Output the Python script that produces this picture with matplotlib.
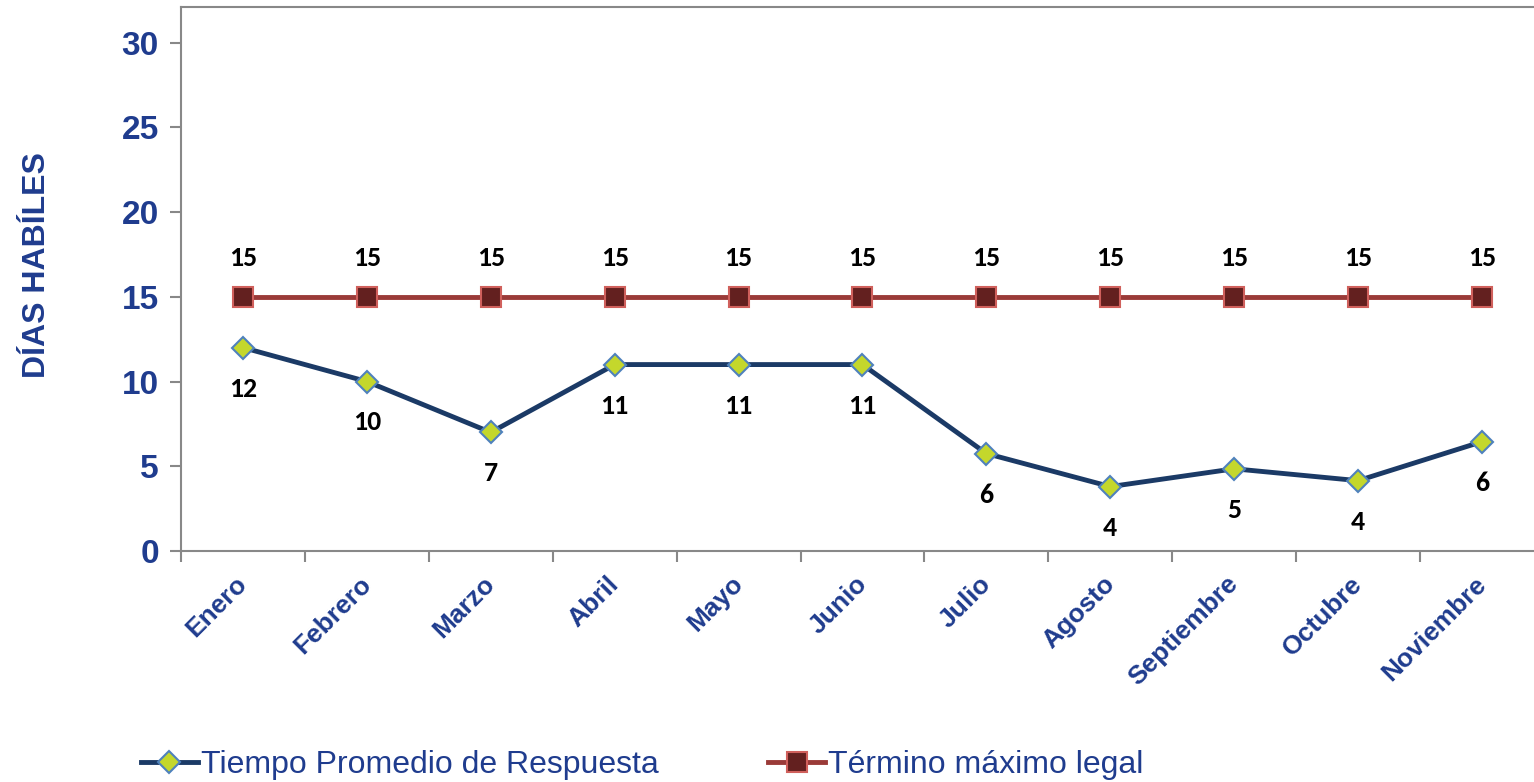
import matplotlib.pyplot as plt
import matplotlib.transforms as mtransforms
from matplotlib.ticker import FixedLocator, NullFormatter

meses = ['Enero', 'Febrero', 'Marzo', 'Abril', 'Mayo', 'Junio', 'Julio',
         'Agosto', 'Septiembre', 'Octubre', 'Noviembre']
tiempo_promedio = [12, 10, 7, 11, 11, 11, 5.75, 3.8, 4.85, 4.15, 6.45]
tiempo_labels = ['12', '10', '7', '11', '11', '11', '6', '4', '5', '4', '6']
termino_legal = [15] * 11

azul = '#1F3C8E'
plt.rcParams['font.family'] = ['Liberation Sans', 'DejaVu Sans']

fig = plt.figure(figsize=(15.34, 7.82), dpi=100)
ax = fig.add_axes([0.118, 0.2954, 0.8885, 0.6957])

x = list(range(len(meses)))
ax.plot(x, tiempo_promedio, color='#1B3A66', lw=3.5, marker='D', markersize=11,
        markerfacecolor='#C4D72C', markeredgecolor='#4F81BD', markeredgewidth=1.5,
        label='Tiempo Promedio de Respuesta', zorder=3)
ax.plot(x, termino_legal, color='#9A3A38', lw=3.5, marker='s', markersize=14,
        markerfacecolor='#63201F', markeredgecolor='#D0605C', markeredgewidth=1.5,
        label='Término máximo legal', zorder=3)

lab_font = ['Carlito', 'Liberation Sans', 'DejaVu Sans']
for i, (v, lab) in enumerate(zip(tiempo_promedio, tiempo_labels)):
    ax.annotate(lab, (i, v), xytext=(0, -29.5), textcoords='offset points',
                ha='center', va='center', fontsize=20, fontweight='bold',
                family=lab_font)
for i, v in enumerate(termino_legal):
    ax.annotate(str(v), (i, v), xytext=(0, 28), textcoords='offset points',
                ha='center', va='center', fontsize=20, fontweight='bold',
                family=lab_font)

ax.set_xlim(-0.5, 10.5)
ax.set_ylim(0, 32.1)
ax.set_yticks([0, 5, 10, 15, 20, 25, 30])
ax.tick_params(axis='y', labelsize=24, labelcolor=azul, length=8, width=1.5,
               color='#888888', pad=8)
for t in ax.get_yticklabels():
    t.set_fontweight('bold')

ax.set_xticks(x)
ax.set_xticklabels(meses, rotation=45, ha='right', va='top', rotation_mode='anchor',
                   fontsize=19, fontweight='bold', color=azul)
ax.tick_params(axis='x', length=0, pad=15)
desplaza = mtransforms.ScaledTranslation(-0.08, 0, fig.dpi_scale_trans)
for t in ax.get_xticklabels():
    t.set_transform(t.get_transform() + desplaza)
ax.xaxis.set_minor_locator(FixedLocator([i - 0.5 for i in range(12)]))
ax.xaxis.set_minor_formatter(NullFormatter())
ax.tick_params(axis='x', which='minor', length=8, width=1.5, color='#888888')

for s in ax.spines.values():
    s.set_color('#888888')
    s.set_linewidth(1.5)

ax.set_ylabel('DÍAS HABÍLES', fontsize=23, fontweight='bold', color=azul)
ax.yaxis.set_label_coords(-0.0945, 0.526)

fig.legend(loc='lower left', bbox_to_anchor=(0.073, -0.034), ncol=2, frameon=False,
           fontsize=23, handlelength=1.8, columnspacing=3.4, handletextpad=0.1,
           labelcolor=azul)

fig.savefig('out.png', dpi=100)
